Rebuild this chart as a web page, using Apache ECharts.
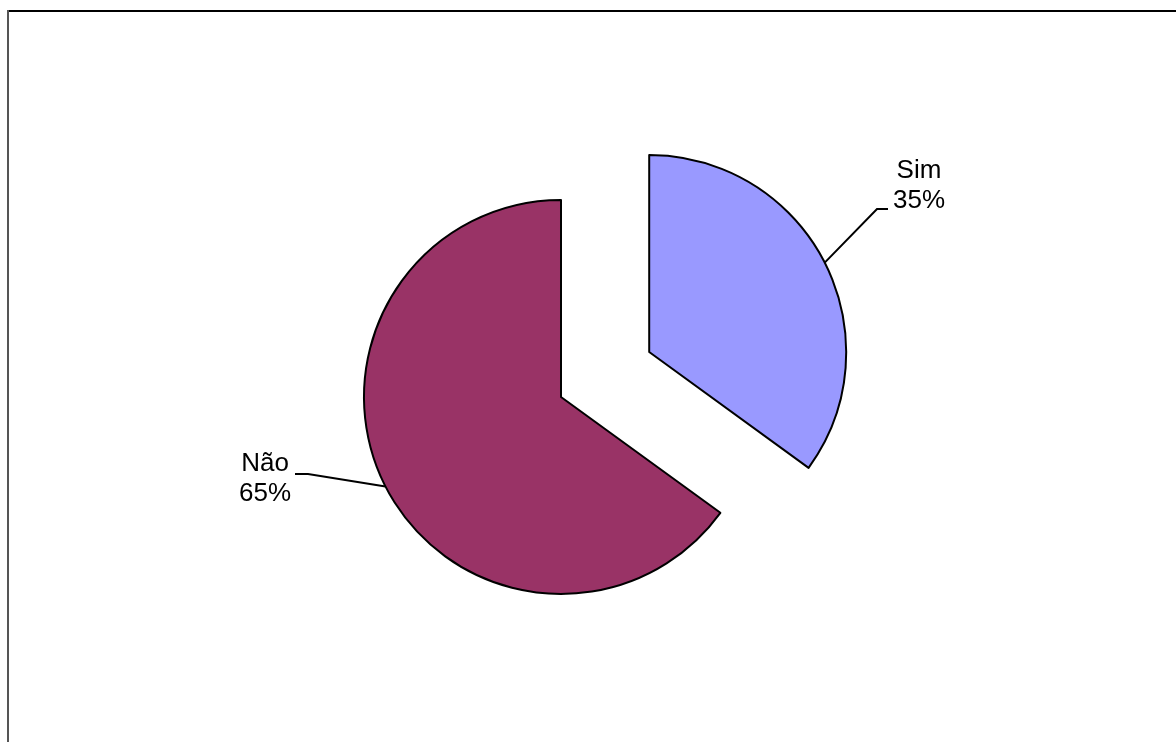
<!DOCTYPE html>
<html>
<head>
<meta charset="utf-8">
<script src="https://cdn.jsdelivr.net/npm/echarts@6/dist/echarts.min.js"></script>
<style>
  html, body { margin: 0; padding: 0; background: #fff; }
  #chart { width: 1176px; height: 742px; }
</style>
</head>
<body>
<div id="chart"></div>
<script>
// Answer categories and their shares (percent)
const categories = ['Sim', 'Não'];
const shares = [35, 65];
const colors = ['#9999FF', '#993366'];

// Pie geometry
const pieCentre = [561, 397];
const pieRadius = 197;
const explodeDistance = 99;   // how far the "Sim" slice is pulled out

// Where each two-line label sits (centre of the text block)
const labelCentres = [[919, 186], [265, 479]];
// Bend of each leader line, relative to its label centre: [elbow, end]
const leaderBends = [
  [[-42, 23], [-31, 23]],
  [[43, -5], [30, -5]]
];

// The pulled-out slice moves along its own bisector
const total = shares.reduce((a, b) => a + b, 0);
const midAngle = (90 - (shares[0] / total) * 360 / 2) * Math.PI / 180;
const explodedCentre = [
  pieCentre[0] + explodeDistance * Math.cos(midAngle),
  pieCentre[1] - explodeDistance * Math.sin(midAngle)
];

function leaderLayout(p) {
  const c = labelCentres[p.dataIndex];
  const b = leaderBends[p.dataIndex];
  const out = { x: c[0], y: c[1], align: 'center', verticalAlign: 'middle' };
  if (p.labelLinePoints && p.labelLinePoints.length) {
    const start = p.labelLinePoints[0];
    out.labelLinePoints = [
      [start[0], start[1]],
      [c[0] + b[0][0], c[1] + b[0][1]],
      [c[0] + b[1][0], c[1] + b[1][1]]
    ];
  }
  return out;
}

// One pie per drawn slice: each series keeps the full data (so the angles
// are right) but only paints its own slice.
function pieSeries(shownIndex, centre) {
  return {
    type: 'pie',
    center: centre,
    radius: pieRadius,
    startAngle: 90,
    clockwise: true,
    silent: true,
    emphasis: { disabled: true },
    labelLayout: leaderLayout,
    data: categories.map((name, i) => {
      const shown = i === shownIndex;
      return {
        name: name,
        value: shares[i],
        itemStyle: shown
          ? { color: colors[i], borderColor: '#000', borderWidth: 2 }
          : { color: 'rgba(0,0,0,0)', borderWidth: 0 },
        label: {
          show: shown,
          formatter: '{b}\n{d}%',
          color: '#000',
          fontFamily: 'Liberation Sans, Arial, sans-serif',
          fontSize: 26,
          lineHeight: 30,
          align: 'center'
        },
        labelLine: {
          show: shown,
          lineStyle: { color: '#000', width: 2 }
        }
      };
    })
  };
}

const chart = echarts.init(document.getElementById('chart'), null, { renderer: 'canvas' });

chart.setOption({
  backgroundColor: '#ffffff',
  animation: false,
  graphic: [
    { type: 'line', shape: { x1: 8, y1: 11, x2: 1176, y2: 11 }, style: { stroke: '#000', lineWidth: 2 } },
    { type: 'line', shape: { x1: 8, y1: 10, x2: 8, y2: 742 }, style: { stroke: '#555', lineWidth: 2 } }
  ],
  series: [
    pieSeries(1, pieCentre),
    pieSeries(0, explodedCentre)
  ]
});
</script>
</body>
</html>
